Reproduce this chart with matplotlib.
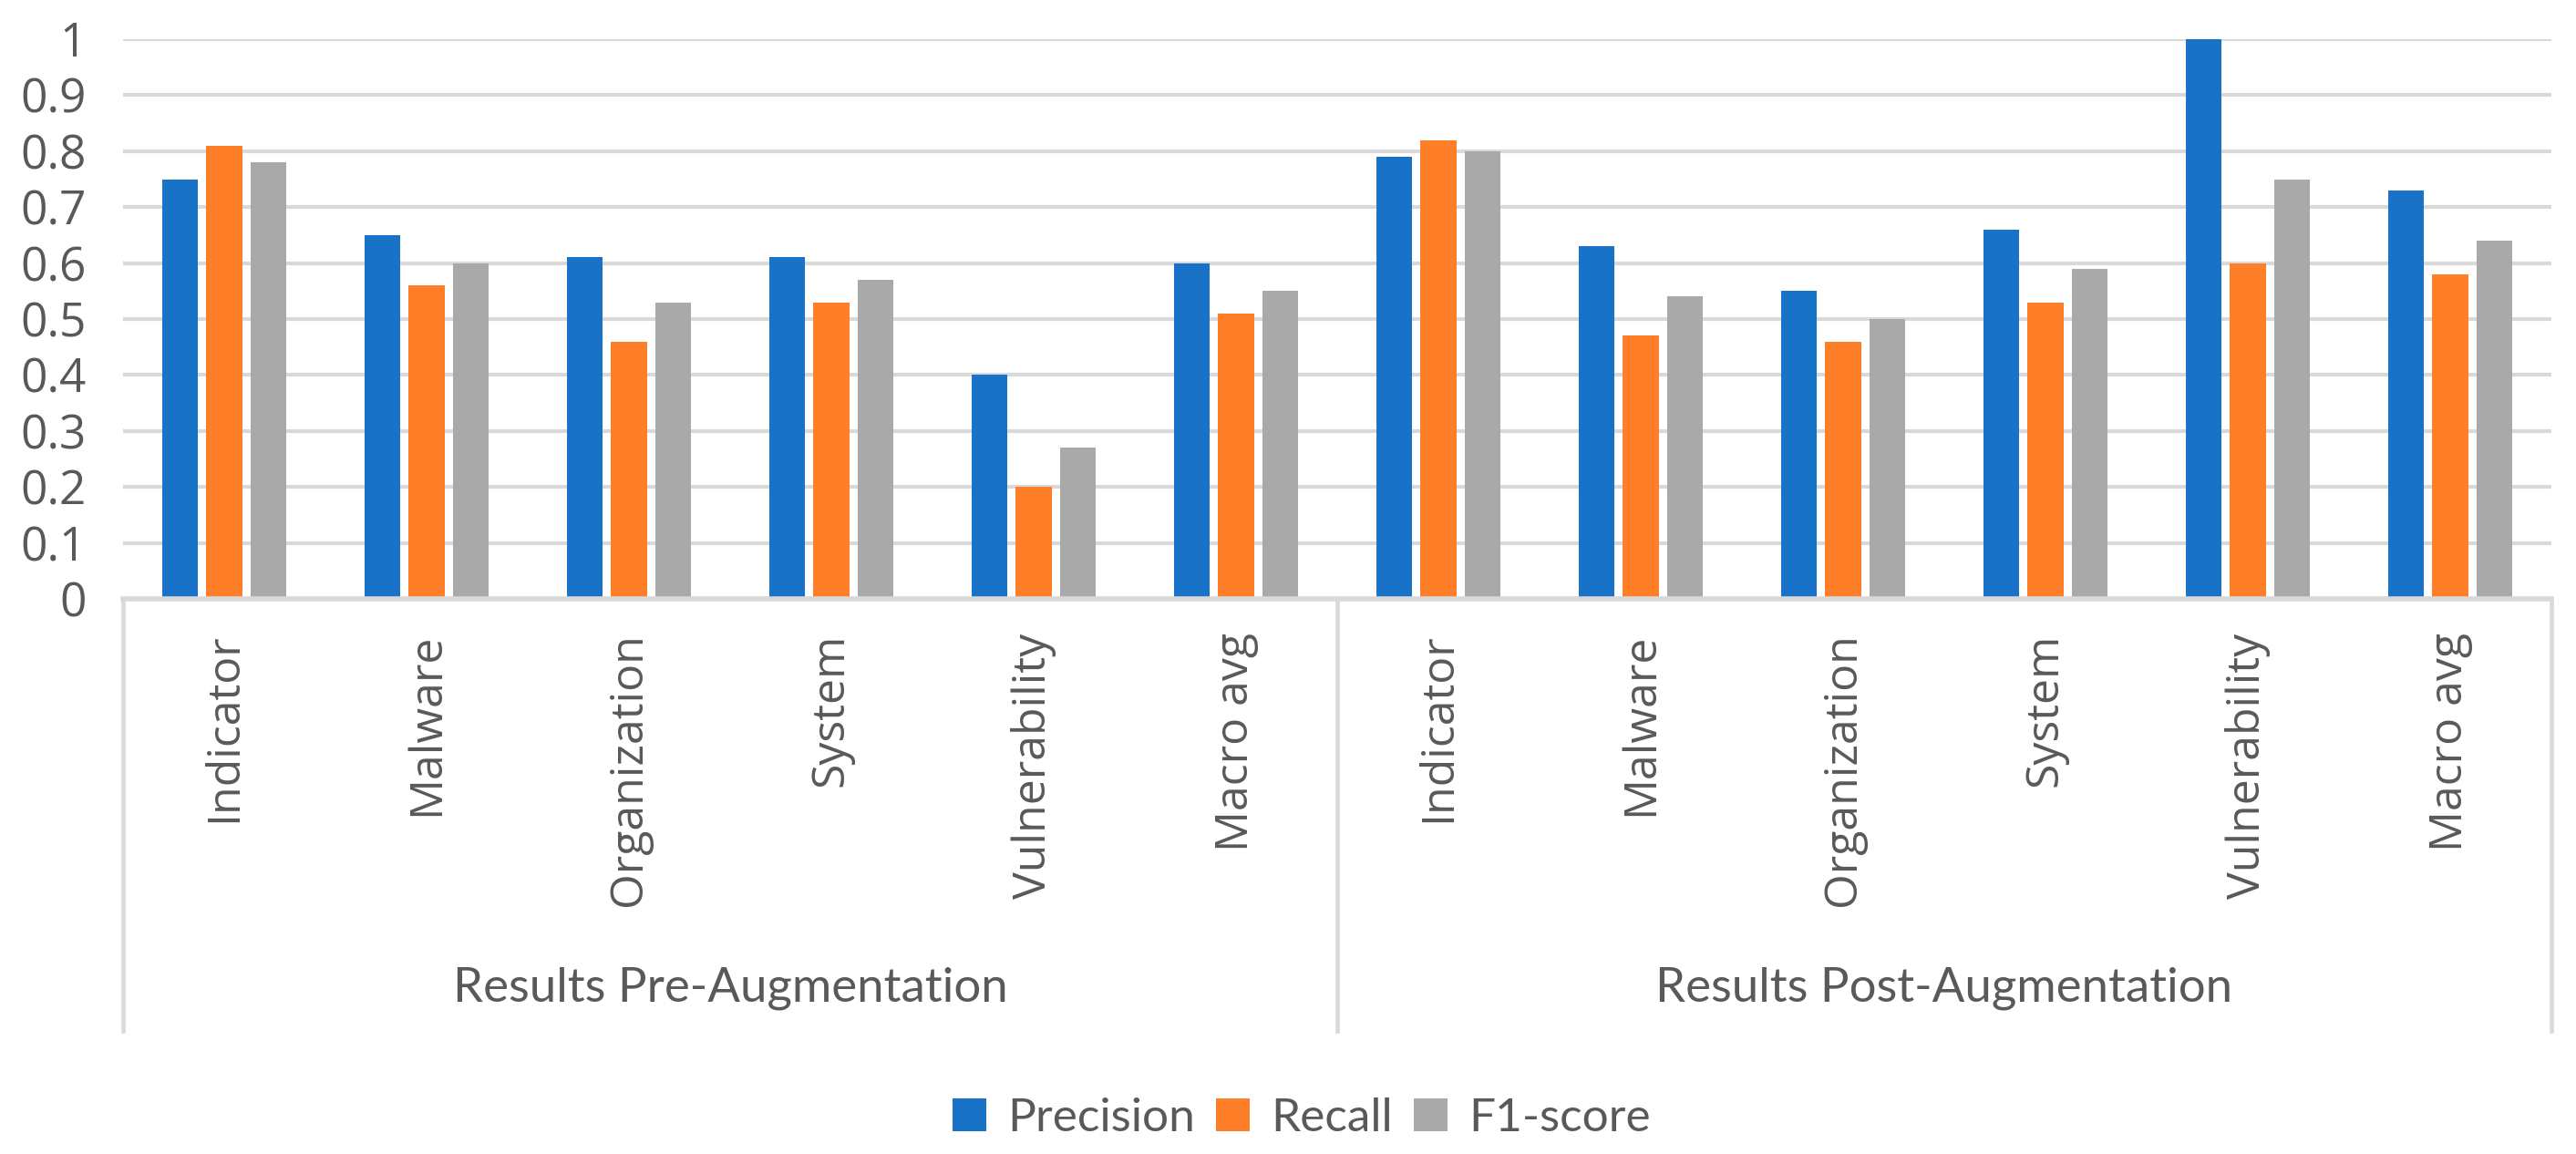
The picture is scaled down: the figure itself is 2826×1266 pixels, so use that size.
import numpy as np
import matplotlib
matplotlib.use("Agg")
import matplotlib.pyplot as plt
from matplotlib.patches import Patch

# data
categories = ['Indicator', 'Malware', 'Organization', 'System', 'Vulnerability', 'Macro avg']
groups = ['Results Pre-Augmentation', 'Results Post-Augmentation']
series = ['Precision', 'Recall', 'F1-score']

precision = [0.75, 0.65, 0.61, 0.61, 0.40, 0.60,
             0.79, 0.63, 0.55, 0.66, 1.00, 0.73]
recall = [0.81, 0.56, 0.46, 0.53, 0.20, 0.51,
          0.82, 0.47, 0.46, 0.53, 0.60, 0.58]
f1_score = [0.78, 0.60, 0.53, 0.57, 0.27, 0.55,
            0.80, 0.54, 0.50, 0.59, 0.75, 0.64]

colors = ['#1873C8', '#FE7F27', '#A9A9A9']
grid_col = '#D9D9D9'
text_col = '#595959'

W, H = 2826, 1266
fig = plt.figure(figsize=(W / 100, H / 100), dpi=100)
ax = fig.add_axes([135 / W, 1 - 657 / H, (2799 - 135) / W, (657 - 43) / H])

x = np.arange(len(categories) * len(groups))
step = 0.22
width = 0.176
for i, (vals, col) in enumerate(zip([precision, recall, f1_score], colors)):
    ax.bar(x + (i - 1) * step, vals, width=width, color=col, zorder=3)

ax.set_xlim(-0.5, len(x) - 0.5)
ax.set_ylim(0, 1)
ax.set_yticks(np.arange(0, 1.01, 0.1))
ax.set_yticklabels(['0'] + [f'{v:.1f}' for v in np.arange(0.1, 0.95, 0.1)] + ['1'])
ax.yaxis.grid(True, color=grid_col, linewidth=3)
ax.set_axisbelow(True)

for s in ['left', 'right', 'top']:
    ax.spines[s].set_visible(False)
ax.spines['bottom'].set_color(grid_col)
ax.spines['bottom'].set_linewidth(4)
ax.spines['bottom'].set_zorder(4)

ax.set_xticks(x)
ax.set_xticklabels(categories * len(groups), rotation=90, va='top', ha='center',
                   fontfamily='Open Sans', fontsize=36, color=text_col)
ax.tick_params(axis='x', length=0, pad=27)
ax.tick_params(axis='y', length=0, pad=29, labelsize=37, labelcolor=text_col)
for lab in ax.get_yticklabels():
    lab.set_fontfamily('Open Sans')

# category box below the axis
trans = ax.get_xaxis_transform()
box_bottom = -(1131 - 657) / (657 - 43)
for xv in [-0.5, 5.5, 11.5]:
    ax.plot([xv, xv], [0, box_bottom], color=grid_col, linewidth=3.3,
            transform=trans, clip_on=False)

# group labels
label_y = -(1084 - 657) / (657 - 43)
for g, name in enumerate(groups):
    ax.text(g * 6 + 2.5, label_y, name, transform=trans, ha='center', va='center',
            fontfamily='Lato', fontsize=38, color=text_col)

handles = [Patch(facecolor=c, edgecolor='none', label=s) for s, c in zip(series, colors)]
fig.legend(handles=handles, loc='center', bbox_to_anchor=(1428 / W, 1 - 1227 / H),
           ncol=3, frameon=False, prop={'family': 'Lato', 'size': 37},
           labelcolor=text_col, handlelength=0.72, handleheight=0.72,
           handletextpad=0.45, columnspacing=0.45, borderpad=0)

fig.savefig('out.png', dpi=100)
